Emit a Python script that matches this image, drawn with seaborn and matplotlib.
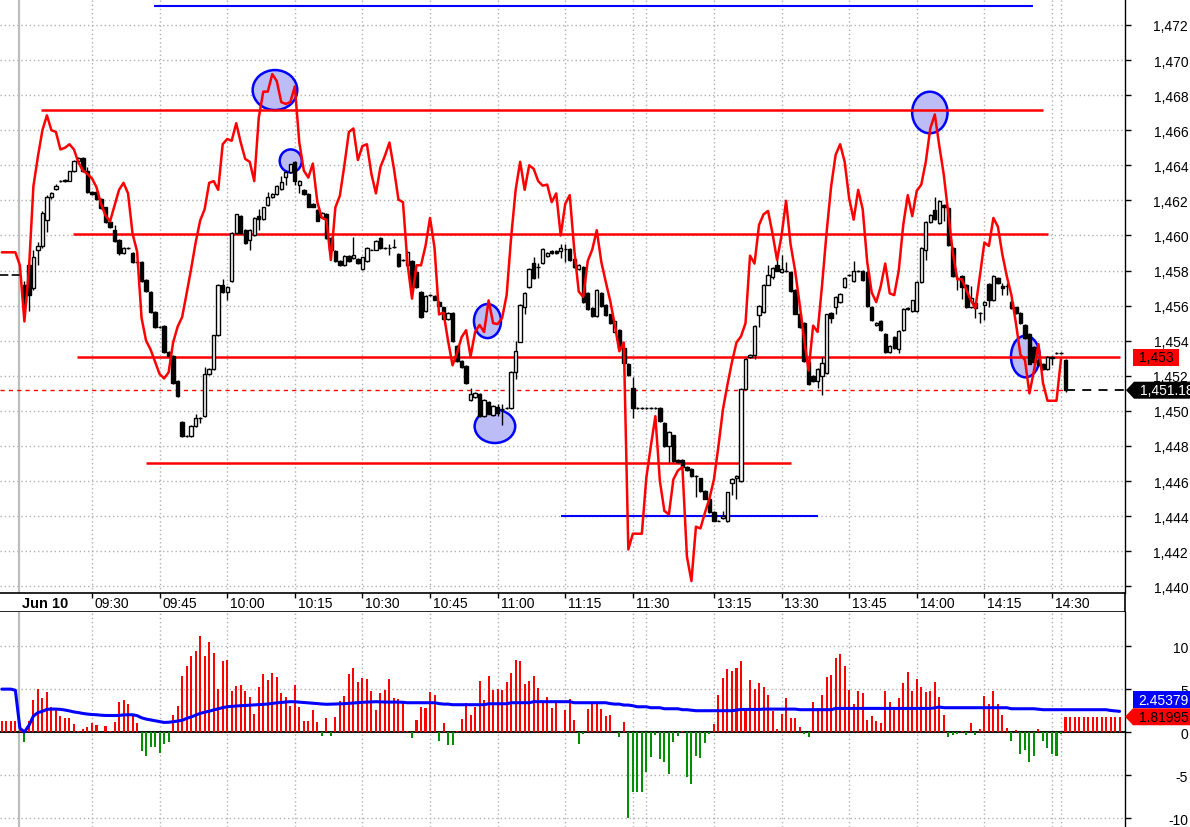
import matplotlib
matplotlib.use("Agg")
import matplotlib.pyplot as plt
from matplotlib.patches import Ellipse, Polygon, Rectangle
from matplotlib.ticker import FuncFormatter
import seaborn as sns
import numpy as np
import pandas as pd

# ---------------- data (1-minute bars, bar 0 = first bar of Jun 10) ----------------
OPEN = [
    1457.2, 1458.3, 1457.0, 1459.2, 1459.4, 1460.9, 1462.2, 1462.65, 1463.1, 1463.1,
    1463.1, 1463.65, 1464.25, 1464.4, 1463.65, 1462.5, 1462.5, 1462.1, 1461.6, 1460.75,
    1460.3, 1459.75, 1459.0, 1459.3, 1459.0, 1458.5, 1458.5, 1457.45, 1456.8, 1455.65,
    1454.8, 1454.85, 1453.35, 1453.15, 1451.7, 1449.35, 1448.55, 1448.55, 1449.15, 1449.6,
    1449.7, 1452.1, 1452.4, 1454.3, 1457.2, 1456.8, 1457.4, 1460.15, 1461.1, 1460.3,
    1459.75, 1460.0, 1461.1, 1460.95, 1461.75, 1462.2, 1462.35, 1462.65, 1463.35, 1463.6,
    1464.2, 1462.9, 1462.6, 1462.35, 1461.8, 1461.45, 1461.05, 1461.2, 1459.85, 1459.1,
    1458.55, 1458.3, 1458.85, 1458.7, 1458.65, 1458.1, 1458.55, 1459.2, 1459.2, 1459.85,
    1459.3, 1459.3, 1459.35, 1458.95, 1458.6, 1458.3, 1458.55, 1457.9, 1456.8, 1455.7,
    1456.6, 1456.55, 1456.2, 1455.9, 1455.25, 1455.6, 1453.7, 1452.85, 1452.55, 1450.6,
    1450.8, 1450.95, 1449.7, 1450.5, 1449.75, 1450.25, 1450.1, 1450.15, 1450.15, 1452.2,
    1453.95, 1455.9, 1457.05, 1458.45, 1458.2, 1458.45, 1458.85, 1459.1, 1459.1, 1459.1,
    1459.25, 1459.25, 1458.65, 1458.1, 1458.2, 1456.7, 1455.85, 1455.4, 1456.7, 1456.05,
    1455.5, 1454.5, 1454.6, 1453.6, 1452.7, 1451.3, 1450.15, 1450.15, 1450.15, 1450.15,
    1450.15, 1450.15, 1449.3, 1448.0, 1448.6, 1447.2, 1447.2, 1446.8, 1446.7, 1446.3,
    1446.15, 1445.45, 1445.0, 1444.25, 1443.75, 1443.9, 1443.7, 1445.9, 1446.15, 1446.0,
    1451.25, 1453.05, 1453.2, 1455.45, 1455.65, 1457.2, 1457.65, 1458.3, 1457.9, 1457.95,
    1457.9, 1456.9, 1455.55, 1455.0, 1452.8, 1452.0, 1451.7, 1452.0, 1452.15, 1455.6,
    1455.9, 1456.2, 1457.05, 1457.75, 1457.4, 1458.0, 1458.0, 1457.9, 1455.95, 1454.9,
    1455.15, 1454.4, 1453.35, 1454.2, 1453.55, 1454.6, 1455.85, 1455.7, 1455.7, 1457.35,
    1459.15, 1460.75, 1461.45, 1460.7, 1461.75, 1461.55, 1459.3, 1457.6, 1457.7, 1457.2,
    1455.9, 1456.15, 1455.6, 1456.05, 1457.25, 1456.3, 1457.6, 1457.1, 1457.1, 1456.2,
    1455.9, 1455.6, 1454.9, 1454.4, 1453.65, 1452.9, 1452.7, 1452.4, 1453.1, 1453.3,
    1453.3, 1452.9,
]
CLOSE = [
    1456.2, 1456.6, 1458.8, 1459.4, 1461.3, 1462.2, 1462.4, 1462.8, 1463.1, 1463.15,
    1463.65, 1464.25, 1464.4, 1463.65, 1462.45, 1462.35, 1462.1, 1461.55, 1460.75, 1460.5,
    1459.7, 1459.0, 1459.3, 1459.3, 1458.5, 1458.5, 1457.4, 1456.85, 1455.65, 1454.8,
    1454.8, 1453.35, 1453.15, 1451.6, 1450.85, 1448.55, 1448.55, 1449.15, 1449.6, 1449.6,
    1452.1, 1452.4, 1454.3, 1457.2, 1456.75, 1457.05, 1460.15, 1461.2, 1460.15, 1459.55,
    1460.3, 1461.0, 1460.95, 1461.6, 1462.2, 1462.35, 1462.8, 1463.05, 1463.6, 1464.05,
    1463.1, 1463.1, 1462.35, 1461.65, 1461.65, 1460.85, 1461.3, 1459.85, 1459.15, 1458.55,
    1458.3, 1458.85, 1458.55, 1458.9, 1458.45, 1458.75, 1459.3, 1459.2, 1459.7, 1459.3,
    1459.3, 1459.3, 1459.35, 1458.25, 1458.6, 1459.05, 1457.05, 1457.05, 1455.35, 1456.55,
    1456.6, 1456.35, 1456.0, 1455.25, 1455.6, 1454.0, 1452.85, 1452.5, 1451.6, 1450.95,
    1451.0, 1449.7, 1450.65, 1449.85, 1450.3, 1449.9, 1450.1, 1450.15, 1452.2, 1453.4,
    1456.05, 1456.7, 1458.1, 1457.55, 1458.2, 1459.25, 1459.0, 1459.0, 1459.0, 1459.3,
    1459.25, 1458.6, 1458.2, 1458.3, 1456.2, 1455.8, 1455.4, 1456.9, 1456.0, 1455.45,
    1455.0, 1455.1, 1453.6, 1452.75, 1452.05, 1450.15, 1450.15, 1450.15, 1450.15, 1450.15,
    1450.15, 1449.4, 1448.0, 1448.8, 1447.15, 1447.1, 1446.8, 1446.65, 1446.3, 1446.3,
    1445.45, 1445.0, 1444.25, 1443.75, 1443.75, 1444.0, 1445.35, 1446.1, 1446.3, 1451.25,
    1452.95, 1453.2, 1454.85, 1456.0, 1457.2, 1457.75, 1458.15, 1458.0, 1458.1, 1457.95,
    1456.85, 1455.55, 1454.8, 1452.85, 1451.55, 1451.7, 1452.4, 1452.75, 1455.5, 1455.3,
    1456.5, 1456.65, 1457.6, 1457.75, 1458.0, 1457.95, 1457.45, 1456.0, 1455.2, 1455.0,
    1454.6, 1453.35, 1453.7, 1453.6, 1454.55, 1455.8, 1455.8, 1456.3, 1457.35, 1459.3,
    1460.75, 1461.15, 1460.95, 1461.95, 1461.65, 1459.45, 1457.7, 1457.6, 1457.05, 1455.9,
    1456.45, 1455.85, 1455.6, 1456.2, 1456.3, 1457.7, 1457.3, 1457.0, 1457.1, 1455.85,
    1455.6, 1455.0, 1454.15, 1452.7, 1452.8, 1452.6, 1452.4, 1453.1, 1453.0, 1453.3,
    1453.3, 1451.18,
]
HIGH = [
    1457.4, 1458.5, 1459.2, 1459.6, 1461.4, 1462.3, 1462.5, 1462.95, 1463.15, 1463.2,
    1463.7, 1464.3, 1464.45, 1464.5, 1463.9, 1462.55, 1462.55, 1462.15, 1461.65, 1460.8,
    1460.6, 1459.8, 1459.35, 1459.35, 1459.05, 1458.55, 1458.55, 1457.5, 1456.85, 1455.7,
    1454.85, 1454.9, 1453.4, 1453.2, 1451.75, 1449.4, 1448.6, 1449.2, 1449.8, 1449.65,
    1452.5, 1452.45, 1454.35, 1457.25, 1457.5, 1457.1, 1460.2, 1461.25, 1461.15, 1460.35,
    1460.35, 1461.05, 1461.5, 1461.65, 1462.5, 1462.4, 1462.85, 1463.4, 1463.65, 1464.1,
    1464.25, 1463.15, 1462.65, 1462.4, 1461.85, 1461.5, 1461.35, 1461.3, 1459.9, 1459.15,
    1458.6, 1458.9, 1458.9, 1459.9, 1458.7, 1458.8, 1459.35, 1459.25, 1459.75, 1459.9,
    1459.35, 1459.5, 1459.8, 1459.0, 1458.65, 1459.1, 1458.6, 1457.95, 1456.85, 1456.6,
    1456.65, 1456.6, 1456.25, 1455.95, 1455.65, 1455.65, 1453.75, 1452.9, 1452.6, 1451.3,
    1451.05, 1451.0, 1450.7, 1450.55, 1450.35, 1450.4, 1450.4, 1450.2, 1452.25, 1454.0,
    1456.1, 1456.75, 1458.15, 1458.8, 1458.45, 1459.3, 1459.05, 1459.15, 1459.15, 1459.5,
    1459.5, 1459.3, 1458.7, 1458.35, 1458.25, 1456.75, 1455.9, 1456.95, 1456.75, 1456.1,
    1455.55, 1455.15, 1454.65, 1453.65, 1452.75, 1451.95, 1450.2, 1450.2, 1450.2, 1450.2,
    1450.2, 1450.2, 1449.35, 1448.85, 1448.65, 1447.25, 1447.25, 1446.85, 1446.75, 1446.35,
    1446.2, 1445.5, 1445.05, 1444.3, 1443.8, 1444.3, 1445.4, 1446.15, 1446.35, 1451.3,
    1453.0, 1453.25, 1454.9, 1456.05, 1457.25, 1458.3, 1458.2, 1459.0, 1458.9, 1458.5,
    1457.95, 1456.95, 1455.6, 1455.05, 1452.85, 1452.05, 1452.45, 1453.1, 1455.55, 1455.65,
    1456.55, 1456.7, 1457.65, 1457.8, 1458.55, 1458.05, 1458.05, 1457.95, 1456.0, 1455.05,
    1455.2, 1454.45, 1453.75, 1454.25, 1454.6, 1455.85, 1455.9, 1456.35, 1457.4, 1459.35,
    1460.8, 1461.2, 1462.2, 1462.0, 1461.8, 1461.6, 1459.35, 1457.65, 1457.75, 1457.25,
    1457.1, 1456.2, 1455.65, 1456.25, 1457.3, 1457.75, 1457.65, 1457.3, 1457.3, 1456.3,
    1455.95, 1455.65, 1454.95, 1454.45, 1453.7, 1452.95, 1452.75, 1453.15, 1453.15, 1453.35,
    1453.35, 1452.95,
]
LOW = [
    1455.6, 1455.7, 1456.9, 1458.3, 1459.3, 1460.2, 1462.1, 1462.6, 1463.05, 1463.05,
    1463.1, 1463.6, 1464.2, 1463.6, 1462.4, 1462.3, 1462.05, 1461.5, 1460.7, 1460.45,
    1459.65, 1458.9, 1458.95, 1459.25, 1458.45, 1458.45, 1457.35, 1456.8, 1455.6, 1454.75,
    1454.75, 1453.3, 1453.1, 1451.55, 1450.8, 1448.5, 1448.5, 1448.5, 1449.1, 1449.3,
    1449.65, 1452.05, 1452.35, 1454.25, 1456.7, 1456.3, 1457.35, 1460.1, 1460.1, 1459.5,
    1459.2, 1459.95, 1460.3, 1460.9, 1461.7, 1462.15, 1462.3, 1462.6, 1462.9, 1463.55,
    1462.9, 1462.4, 1462.3, 1461.6, 1461.6, 1460.8, 1461.0, 1459.8, 1459.1, 1458.5,
    1458.25, 1458.25, 1458.5, 1458.65, 1458.4, 1458.05, 1458.5, 1459.15, 1459.15, 1459.25,
    1459.25, 1458.9, 1459.3, 1458.2, 1458.55, 1458.25, 1457.0, 1457.0, 1455.3, 1455.65,
    1456.55, 1456.3, 1455.95, 1455.2, 1455.2, 1453.95, 1452.8, 1452.45, 1451.55, 1450.55,
    1450.75, 1449.65, 1449.65, 1449.8, 1449.7, 1449.7, 1449.2, 1450.1, 1450.1, 1451.8,
    1453.9, 1455.5, 1457.0, 1457.5, 1457.6, 1458.4, 1458.8, 1458.95, 1458.95, 1458.7,
    1458.5, 1458.55, 1458.15, 1458.05, 1456.15, 1455.75, 1455.35, 1455.35, 1455.95, 1455.4,
    1454.95, 1454.45, 1453.55, 1452.7, 1452.0, 1449.6, 1450.1, 1450.1, 1450.1, 1450.1,
    1450.1, 1449.35, 1447.95, 1447.1, 1447.1, 1447.05, 1446.75, 1446.6, 1446.25, 1445.1,
    1445.4, 1444.95, 1444.2, 1443.7, 1443.7, 1443.85, 1443.65, 1445.2, 1445.0, 1445.95,
    1451.2, 1453.0, 1452.95, 1454.8, 1455.6, 1457.15, 1457.5, 1457.95, 1457.85, 1457.9,
    1456.8, 1455.5, 1454.75, 1452.8, 1451.5, 1451.65, 1451.3, 1450.9, 1452.1, 1455.0,
    1455.5, 1456.15, 1457.0, 1457.7, 1457.35, 1457.9, 1457.4, 1455.95, 1455.15, 1454.85,
    1454.55, 1453.3, 1453.3, 1453.55, 1453.3, 1454.55, 1455.75, 1455.65, 1455.65, 1457.3,
    1458.6, 1460.7, 1460.9, 1460.65, 1460.8, 1459.4, 1457.65, 1456.9, 1456.4, 1455.85,
    1455.85, 1455.3, 1455.0, 1455.2, 1455.9, 1456.25, 1457.25, 1456.6, 1456.6, 1455.8,
    1455.55, 1454.95, 1454.1, 1452.65, 1452.75, 1452.55, 1452.35, 1452.35, 1452.6, 1453.25,
    1453.25, 1451.1,
]

# red indicator line, from bar -5 (previous session) to bar 230
RED_START = -5
RED_LINE = [
    1459.04, 1459.04, 1459.04, 1459.04, 1458.3,
    1455.1, 1458.0, 1462.8, 1464.5, 1466.0, 1466.85, 1466.0, 1465.9, 1464.9, 1465.0,
    1465.2, 1464.9, 1464.15, 1463.7, 1463.5, 1463.25, 1462.75, 1461.8, 1461.15, 1460.8,
    1461.7, 1462.6, 1463.0, 1462.4, 1460.1, 1459.1, 1455.3, 1454.0, 1453.5, 1452.8,
    1452.1, 1451.85, 1452.2, 1453.9, 1454.8, 1455.35, 1456.7, 1458.1, 1459.6, 1460.85,
    1461.5, 1463.0, 1463.1, 1462.6, 1465.2, 1465.5, 1465.4, 1466.4, 1465.3, 1464.36,
    1464.2, 1463.1, 1466.7, 1468.2, 1468.2, 1469.2, 1468.8, 1467.6, 1467.5, 1467.6,
    1468.5, 1465.3, 1463.7, 1463.3, 1464.1, 1461.9, 1461.0, 1460.9, 1458.6, 1461.6,
    1462.27, 1464.0, 1465.9, 1466.1, 1464.3, 1465.1, 1465.2, 1463.5, 1462.4, 1463.9,
    1464.55, 1465.3, 1463.8, 1462.04, 1461.9, 1458.4, 1456.4, 1458.3, 1458.3, 1459.4,
    1461.0, 1459.3, 1455.5, 1455.6, 1454.0, 1452.6, 1453.3, 1454.2, 1454.6, 1453.1,
    1454.5, 1454.9, 1454.5, 1456.3, 1455.0, 1454.95, 1455.3, 1456.6, 1459.9, 1462.6,
    1464.2, 1462.6, 1464.0, 1463.8, 1463.1, 1462.84, 1462.9, 1461.9, 1462.4, 1460.0,
    1461.8, 1462.3, 1459.2, 1456.8, 1456.5, 1458.55, 1459.2, 1460.3, 1458.5, 1457.35,
    1456.25, 1454.9, 1453.4, 1453.9, 1442.1, 1443.0, 1443.0, 1443.0, 1446.2, 1448.0,
    1449.7, 1446.0, 1444.3, 1444.1, 1446.1, 1446.6, 1446.8, 1441.7, 1440.3, 1443.4,
    1443.3, 1444.2, 1445.0, 1446.1, 1448.0, 1450.1, 1451.5, 1452.8, 1453.9, 1454.25,
    1455.0, 1458.85, 1458.4, 1460.6, 1461.2, 1461.4, 1460.1, 1458.6, 1460.0, 1461.98,
    1459.5, 1458.0, 1456.1, 1454.1, 1452.3, 1454.86, 1454.5, 1457.2, 1460.2, 1462.8,
    1464.6, 1465.2, 1464.2, 1462.1, 1460.9, 1462.6, 1461.5, 1458.5, 1456.75, 1456.2,
    1457.1, 1458.4, 1456.7, 1456.6, 1458.0, 1460.6, 1462.3, 1461.1, 1462.55, 1462.9,
    1464.2, 1466.1, 1466.9, 1465.1, 1463.45, 1461.2, 1459.0, 1457.5, 1457.5, 1456.9,
    1456.3, 1455.85, 1457.7, 1459.6, 1459.4, 1461.0, 1460.5, 1458.9, 1457.65, 1456.6,
    1455.0, 1453.2, 1452.9, 1451.0, 1452.3, 1453.8, 1451.6, 1450.58, 1450.58, 1450.58,
    1452.96,
]

# lower panel histogram and its blue average, from bar -5 to bar 243
LOW_START = -5
HIST = [
    1.35, 1.35, 1.35, 1.35, 0.77,
    -1.09, 1.35, 3.8, 5.03, 4.0, 4.72, 2.98, 2.7, 1.93, 1.63,
    1.63, 0.97, 0.19, 0.39, 0.66, 1.08, 0.85, 0.05, 0.7, 0.19,
    1.16, 3.49, 3.76, 3.3, 1.86, 1.08, -2.13, -2.71, -1.74, -1.74,
    -2.4, -1.36, -1.09, 1.97, 3.06, 6.58, 7.74, 8.9, 9.5, 11.24,
    8.85, 10.54, 9.22, 5.04, 8.33, 8.45, 4.84, 5.43, 5.5, 4.84,
    4.07, 2.13, 5.23, 6.78, 6.12, 6.9, 6.4, 4.57, 4.07, 3.1,
    5.5, 3.0, 1.36, 1.36, 2.6, 1.24, -0.39, 1.63, -0.39, 1.74,
    3.68, 4.26, 6.78, 7.44, 5.81, 6.28, 6.2, 4.84, 2.6, 4.57,
    4.96, 6.2, 4.0, 3.88, 3.49, 0.12, -0.66, 1.43, 2.95, 2.83,
    4.69, 4.34, -1.0, 1.09, -1.47, -1.47, 0.16, 1.55, 3.41, 2.02,
    2.95, 5.97, 3.76, 6.55, 4.92, 5.04, 4.92, 5.85, 6.9, 8.41,
    8.29, 5.62, 5.97, 6.55, 5.16, 3.64, 4.11, 2.83, 3.53, 0.16,
    2.6, 3.88, 1.43, -1.32, -0.16, 2.71, 3.29, 3.53, 2.71, 1.9,
    2.02, 0.0, -0.5, 1.2, -9.96, -6.98, -6.98, -6.98, -4.57, -2.83,
    -0.27, -3.06, -3.41, -4.81, -1.09, -0.39, 0.12, -5.16, -5.97, -2.71,
    -2.95, -1.2, -0.16, 0.93, 4.34, 6.32, 7.36, 7.13, 7.48, 8.29,
    2.83, 6.09, 5.04, 5.74, 5.27, 4.34, 2.48, 0.39, 2.13, 3.99,
    1.67, 1.67, 0.62, -0.16, -0.5, 3.53, 2.83, 4.34, 6.43, 6.67,
    8.64, 9.1, 7.71, 4.92, 3.29, 4.8, 4.57, 1.43, 1.9, 1.32,
    1.09, 4.8, 3.53, 2.6, 3.99, 5.74, 7.02, 4.8, 6.2, 5.27,
    4.69, 4.8, 5.85, 4.11, 2.02, -0.5, -0.27, -0.16, 0.16, -0.27,
    1.09, -0.27, 0.39, 4.22, 3.29, 4.8, 3.29, 2.02, 0.5, -1.0,
    0.27, -2.48, -2.02, -3.41, -2.71, 0.39, -1.0, -1.78, -2.48, -2.71,
    -0.16, 1.82, 1.82, 1.82, 1.82, 1.82, 1.82, 1.82, 1.82, 1.82,
    1.82, 1.82, 1.82, 1.82,
]
BLUE = [
    5.03, 5.03, 5.03, 4.9, 0.5,
    0.05, 0.8, 1.9, 2.3, 2.45, 2.68, 2.71, 2.71, 2.68, 2.6,
    2.5, 2.38, 2.3, 2.2, 2.13, 2.08, 2.05, 2.0, 1.97, 1.96,
    1.96, 1.98, 2.03, 2.05, 2.05, 1.95, 1.7, 1.55, 1.45, 1.35,
    1.25, 1.16, 1.18, 1.24, 1.32, 1.4, 1.63, 1.8, 2.0, 2.21,
    2.35, 2.46, 2.62, 2.74, 2.88, 2.98, 3.03, 3.07, 3.1, 3.13,
    3.16, 3.18, 3.22, 3.26, 3.3, 3.37, 3.44, 3.49, 3.53, 3.57,
    3.56, 3.52, 3.48, 3.44, 3.4, 3.35, 3.3, 3.27, 3.28, 3.3,
    3.32, 3.34, 3.38, 3.42, 3.47, 3.5, 3.52, 3.55, 3.57, 3.55,
    3.53, 3.53, 3.53, 3.52, 3.5, 3.45, 3.45, 3.45, 3.45, 3.45,
    3.45, 3.45, 3.35, 3.29, 3.29, 3.22, 3.22, 3.22, 3.22, 3.22,
    3.22, 3.22, 3.22, 3.33, 3.33, 3.33, 3.33, 3.33, 3.45, 3.45,
    3.45, 3.45, 3.45, 3.57, 3.57, 3.57, 3.57, 3.57, 3.57, 3.57,
    3.57, 3.57, 3.45, 3.45, 3.45, 3.45, 3.45, 3.45, 3.45, 3.45,
    3.35, 3.29, 3.29, 3.18, 3.18, 3.1, 2.98, 2.98, 2.98, 2.87,
    2.87, 2.87, 2.75, 2.75, 2.75, 2.75, 2.64, 2.64, 2.58, 2.52,
    2.52, 2.52, 2.52, 2.52, 2.52, 2.52, 2.52, 2.52, 2.6, 2.67,
    2.67, 2.67, 2.67, 2.67, 2.71, 2.71, 2.71, 2.71, 2.71, 2.71,
    2.71, 2.71, 2.64, 2.64, 2.64, 2.64, 2.64, 2.64, 2.64, 2.64,
    2.79, 2.79, 2.79, 2.79, 2.79, 2.79, 2.79, 2.79, 2.79, 2.79,
    2.79, 2.79, 2.79, 2.79, 2.79, 2.79, 2.79, 2.79, 2.79, 2.79,
    2.79, 2.79, 2.85, 2.95, 2.87, 2.87, 2.87, 2.87, 2.87, 2.87,
    2.87, 2.87, 2.87, 2.87, 2.87, 2.87, 2.87, 2.87, 2.87, 2.75,
    2.75, 2.75, 2.75, 2.75, 2.75, 2.7, 2.64, 2.64, 2.64, 2.64,
    2.64, 2.64, 2.64, 2.64, 2.64, 2.64, 2.64, 2.64, 2.64, 2.64,
    2.64, 2.55, 2.5, 2.45,
]

LAST_PRICE = 1451.18
PREV_CLOSE = 1457.76
LAST_HIST = 1.81995
LAST_BLUE = 2.45379

# drawn support / resistance levels: value, first bar, last bar
RED_LEVELS = [1467.15, 1460.08, 1453.07, 1447.03]
RED_LEVEL_FROM = [3.7, 10.8, 11.7, 27.0]
RED_LEVEL_TO = [226.0, 227.1, 243.1, 170.1]
BLUE_LEVELS = [1473.08, 1444.0]
BLUE_LEVEL_FROM = [28.8, 119.0]
BLUE_LEVEL_TO = [223.8, 176.1]

# highlighted spots: bar, price, width (bars), height (price)
MARK_BAR = [55.6, 59.1, 102.75, 104.4, 200.9, 222.1]
MARK_PRICE = [1468.29, 1464.25, 1455.12, 1449.12, 1467.01, 1453.1]
MARK_W = [9.9, 4.9, 6.0, 9.0, 7.85, 6.4]
MARK_H = [2.28, 1.31, 1.94, 1.9, 2.37, 2.37]

TIME_BARS = [15, 30, 45, 60, 75, 90, 105, 120, 135, 153, 168, 183, 198, 213, 228]
TIME_LABELS = ["09:30", "09:45", "10:00", "10:15", "10:30", "10:45", "11:00", "11:15",
               "11:30", "13:15", "13:30", "13:45", "14:00", "14:15", "14:30"]
EXTRA_GRID_BARS = [138, 230]
DAY_BAR = -1.1
DAY_LABEL = "Jun 10"

# ---------------- figure ----------------
sns.set_theme(style="white")
plt.rcParams["font.family"] = ["Liberation Sans", "DejaVu Sans"]
plt.rcParams["axes.unicode_minus"] = False

W, H = 1190.0, 828.0
RIGHT = 1125.0
fig = plt.figure(figsize=(W / 100, H / 100), dpi=100)
fig.patch.set_facecolor("white")
ax = fig.add_axes([0, 1 - 594 / H, RIGHT / W, 594 / H])
ax_t = fig.add_axes([0, 1 - 613 / H, RIGHT / W, 19 / H])
ax2 = fig.add_axes([0, 0, RIGHT / W, 215 / H])

X_LO, X_HI = -5.41, 244.2
grid_x = sorted(TIME_BARS + EXTRA_GRID_BARS)
grid_kw = dict(color="#b0b0b0", linestyle=(0, (1, 2)), linewidth=1.0)

for a in (ax, ax2):
    a.set_xlim(X_LO, X_HI)
    a.set_facecolor("white")
    a.set_xticks(grid_x)
    a.tick_params(axis="x", length=0, labelbottom=False)
    a.grid(True, **grid_kw)
    a.set_axisbelow(True)
    for s in ("left", "top", "bottom"):
        a.spines[s].set_visible(False)
    a.spines["right"].set_color("black")
    a.spines["right"].set_linewidth(1.0)
    a.yaxis.tick_right()
    a.axvline(DAY_BAR, color="#bdbdbd", lw=1.6, zorder=1)

# ---- price panel ----
ax.set_ylim(1439.62, 1473.48)
ax.set_yticks(np.arange(1440, 1473, 2))
ax.yaxis.set_major_formatter(FuncFormatter(lambda v, p: f"{v:,.0f}"))

for bx, py, w, h in zip(MARK_BAR, MARK_PRICE, MARK_W, MARK_H):
    ax.add_patch(Ellipse((bx, py), w, h, facecolor="#bcbcf6", edgecolor="#0000ff",
                         linewidth=1.8, zorder=2))

ax.hlines(RED_LEVELS, RED_LEVEL_FROM, RED_LEVEL_TO, colors="#ff0000", linewidth=1.8, zorder=3)
ax.hlines(BLUE_LEVELS, BLUE_LEVEL_FROM, BLUE_LEVEL_TO, colors="#0000ff", linewidth=1.5, zorder=3)

ax.hlines(LAST_PRICE, X_LO, len(CLOSE) - 1, colors="#ff0000", linestyles=(0, (3, 3)),
          linewidth=1.0, zorder=3)
ax.hlines(LAST_PRICE, len(CLOSE) - 1, X_HI, colors="black", linestyles=(0, (5, 4)),
          linewidth=1.3, zorder=3)
ax.hlines(PREV_CLOSE, X_LO, -0.6, colors="black", linestyles=(0, (5, 2)),
          linewidth=1.2, zorder=3)

bars = pd.DataFrame({"open": OPEN, "high": HIGH, "low": LOW, "close": CLOSE})
bars["bar"] = np.arange(len(bars))
bars["lo"] = bars[["open", "close"]].min(axis=1)
bars["size"] = (bars["close"] - bars["open"]).abs()
up = bars[bars["close"] >= bars["open"]]
dn = bars[bars["close"] < bars["open"]]
ax.vlines(bars["bar"], bars["low"], bars["high"], colors="black", linewidth=1.0, zorder=4)
ax.bar(up["bar"], up["size"], bottom=up["lo"], width=0.75, facecolor="white",
       edgecolor="black", linewidth=1.0, zorder=5)
ax.bar(dn["bar"], dn["size"], bottom=dn["lo"], width=0.75, facecolor="black",
       edgecolor="black", linewidth=1.0, zorder=5)

red_df = pd.DataFrame({"bar": np.arange(RED_START, RED_START + len(RED_LINE)), "value": RED_LINE})
sns.lineplot(data=red_df, x="bar", y="value", ax=ax, color="#ff0000", linewidth=1.8, zorder=6)
ax.set_xlabel("")
ax.set_ylabel("")

# ---- time strip ----
ax_t.set_xlim(X_LO, X_HI)
ax_t.set_ylim(0, 1)
ax_t.set_xticks([])
ax_t.set_yticks([])
for s in ("top", "bottom", "right"):
    ax_t.spines[s].set_color("black")
    ax_t.spines[s].set_linewidth(1.2)
ax_t.spines["left"].set_visible(False)
ax_t.vlines(TIME_BARS, 0.72, 1.0, colors="black", linewidth=1.0)
for b, lab in zip(TIME_BARS, TIME_LABELS):
    ax_t.text(b + 0.65, 0.45, lab, ha="left", va="center", fontsize=10, color="black")
ax_t.text(DAY_BAR + 0.5, 0.45, DAY_LABEL, ha="left", va="center", fontsize=10.5,
          fontweight="bold", color="black")

# ---- lower panel ----
ax2.set_ylim(-11.0, 14.0)
ax2.set_yticks([-10, -5, 0, 5, 10])
ax2.yaxis.set_major_formatter(FuncFormatter(lambda v, p: f"{v:.0f}"))
low_x = np.arange(LOW_START, LOW_START + len(HIST))
hist = np.array(HIST)
ax2.bar(low_x, hist, width=0.45, color=np.where(hist >= 0, "#ff0000", "#009000"),
        linewidth=0, zorder=4)
ax2.axhline(0, color="black", linewidth=1.3, zorder=3)
blue_df = pd.DataFrame({"bar": low_x, "value": BLUE})
sns.lineplot(data=blue_df, x="bar", y="value", ax=ax2, color="#0000ff", linewidth=2.2, zorder=5)
ax2.set_xlabel("")
ax2.set_ylabel("")

for a in (ax, ax2):
    a.tick_params(axis="y", direction="out", length=4, width=1, colors="black",
                  labelsize=10, pad=41.5)
    plt.setp(a.yaxis.get_majorticklabels(), ha="right")

# ---- value badges on the right axis ----
ov = fig.add_axes([0, 0, 1, 1], zorder=20)
ov.set_xlim(0, W)
ov.set_ylim(0, H)
ov.axis("off")
ov.patch.set_alpha(0)


def ypix(a, v):
    return a.transData.transform((0, v))[1]


bh = 8.5
y_lvl = ypix(ax, RED_LEVELS[2])
ov.add_patch(Rectangle((1133, y_lvl - bh), 46, 2 * bh, facecolor="#ff0000", edgecolor="none"))
ov.text(1156, y_lvl, f"{RED_LEVELS[2]:,.0f}", ha="center", va="center", fontsize=10, color="black")

y_px = ypix(ax, LAST_PRICE)
ov.add_patch(Polygon([(1126, y_px), (1134, y_px + bh), (1200, y_px + bh),
                      (1200, y_px - bh), (1134, y_px - bh)], closed=True,
                     facecolor="black", edgecolor="none"))
ov.text(1140, y_px, f"{LAST_PRICE:,.2f}", ha="left", va="center", fontsize=10, color="white")

y_h = ypix(ax2, LAST_HIST)
ov.add_patch(Polygon([(1125, y_h), (1133, y_h + bh), (1200, y_h + bh),
                      (1200, y_h - bh), (1133, y_h - bh)], closed=True,
                     facecolor="#ff0000", edgecolor="none"))
ov.text(1139, y_h, f"{LAST_HIST:.5f}", ha="left", va="center", fontsize=10, color="black")

y_b = y_h + 2 * bh
ov.add_patch(Rectangle((1133, y_b - bh), 70, 2 * bh, facecolor="#0000ff", edgecolor="none"))
ov.text(1138, y_b, f"{LAST_BLUE:.5f}", ha="left", va="center", fontsize=10, color="white")

fig.savefig("out.png", dpi=100, facecolor="white")
plt.close(fig)
